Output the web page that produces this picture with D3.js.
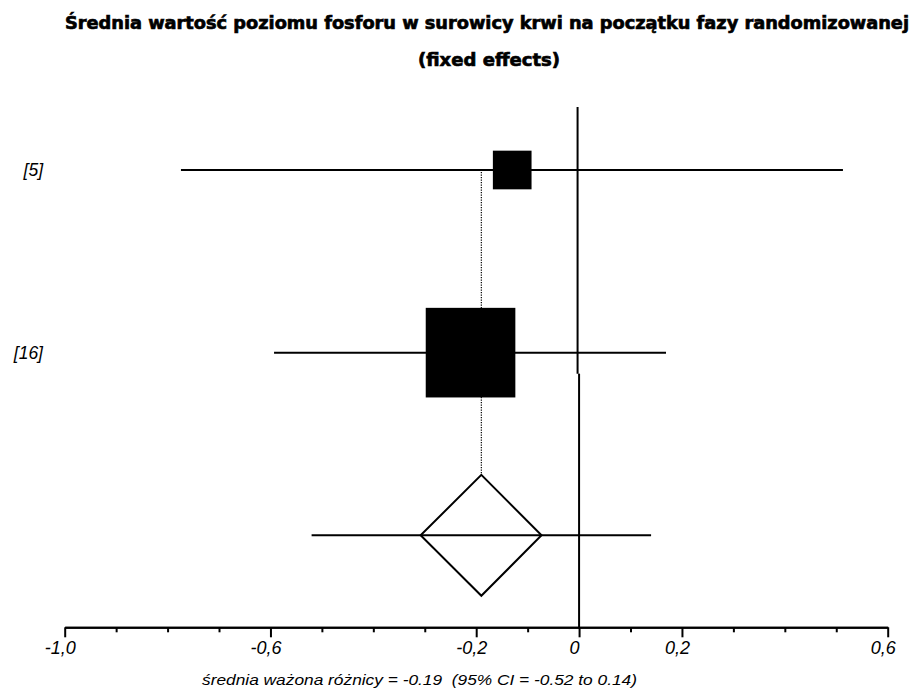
<!DOCTYPE html>
<html>
<head>
<meta charset="utf-8">
<script src="https://cdn.jsdelivr.net/npm/d3@7"></script>
<style>
  html, body { margin: 0; padding: 0; background: #fff; }
  svg { display: block; }
</style>
</head>
<body>
<svg id="chart" width="917" height="691"></svg>
<script>
// Study rows
const studies = ["[5]", "[16]"];
const estimates = [-0.130, -0.211];
const lowerCI = [-0.774, -0.593];
const upperCI = [0.513, 0.169];
const weights = [15.7, 84.3];            // % weight -> box area

// Pooled (fixed effects) estimate
const pooledEstimate = -0.19;
const pooledLower = -0.52;
const pooledUpper = 0.14;
const diamondLow = -0.308;
const diamondHigh = -0.073;

// Axis ticks
const minorTicks = [-0.9, -0.8, -0.7, -0.5, -0.4, -0.3, -0.1, 0.1, 0.3, 0.4, 0.5];
const majorTicks = [-1.0, -0.6, -0.2, 0, 0.2, 0.6];
const majorLabels = ["-1,0", "-0,6", "-0,2", "0", "0,2", "0,6"];

const titleLines = [
  "Średnia wartość poziomu fosforu w surowicy krwi na początku fazy randomizowanej",
  "(fixed effects)"
];
const footnote = "średnia ważona różnicy = -0.19  (95% CI = -0.52 to 0.14)";

const svg = d3.select("#chart");

const x = d3.scaleLinear().domain([-1.0, 0.6]).range([64.7, 887.7]);
const rows = [...studies, "pooled"];
const y = d3.scalePoint().domain(rows).range([170, 535.3]);
const box = d3.scaleSqrt().domain([0, 100]).range([0, 97.6]);
const axisY = 627.3;
const topY = 107;

// Title
const titleFont = "'DejaVu Sans Condensed', 'DejaVu Sans', sans-serif";
svg.append("text")
  .attr("x", 65).attr("y", 29)
  .attr("font-family", titleFont)
  .attr("font-weight", "bold").attr("font-size", 17)
  .attr("stroke", "#000").attr("stroke-width", 0.6)
  .attr("textLength", 844).attr("lengthAdjust", "spacingAndGlyphs")
  .text(titleLines[0]);
svg.append("text")
  .attr("x", 418).attr("y", 65.5)
  .attr("font-family", titleFont)
  .attr("font-weight", "bold").attr("font-size", 17)
  .attr("stroke", "#000").attr("stroke-width", 0.6)
  .attr("textLength", 142).attr("lengthAdjust", "spacingAndGlyphs")
  .text(titleLines[1]);

// Line of no effect (drawn in two pieces, upper piece nudged left)
const breakY = y("[16]") + 21;
svg.append("line")
  .attr("x1", x(0) - 1.5).attr("x2", x(0) - 1.5)
  .attr("y1", topY).attr("y2", breakY)
  .attr("stroke", "#000").attr("stroke-width", 2);
svg.append("line")
  .attr("x1", x(0)).attr("x2", x(0))
  .attr("y1", breakY).attr("y2", axisY)
  .attr("stroke", "#000").attr("stroke-width", 2);

// Dotted reference line at the pooled estimate
const diamondHalf = (x(diamondHigh) - x(diamondLow)) / 2;
svg.append("line")
  .attr("x1", x(pooledEstimate)).attr("x2", x(pooledEstimate))
  .attr("y1", y("[5]") + 2).attr("y2", y("pooled") - diamondHalf)
  .attr("stroke", "#000").attr("stroke-width", 1.2)
  .attr("stroke-dasharray", "1.2,1.3");

// Study confidence intervals and weighted boxes
const data = studies.map((s, i) => ({
  label: s, est: estimates[i], lo: lowerCI[i], hi: upperCI[i], w: weights[i]
}));

const g = svg.append("g");
g.selectAll("line.ci").data(data).join("line")
  .attr("class", "ci")
  .attr("x1", d => x(d.lo)).attr("x2", d => x(d.hi))
  .attr("y1", d => y(d.label)).attr("y2", d => y(d.label))
  .attr("stroke", "#000").attr("stroke-width", 2);

g.selectAll("rect.box").data(data).join("rect")
  .attr("class", "box")
  .attr("x", d => x(d.est) - box(d.w) / 2)
  .attr("y", d => y(d.label) - box(d.w) / 2)
  .attr("width", d => box(d.w))
  .attr("height", d => box(d.w))
  .attr("fill", "#000");

g.selectAll("text.lbl").data(data).join("text")
  .attr("class", "lbl")
  .attr("x", 43).attr("y", d => y(d.label))
  .attr("dy", "0.35em")
  .attr("text-anchor", "end")
  .attr("font-family", "'Liberation Sans', Arial, sans-serif")
  .attr("font-style", "italic").attr("font-size", 17.5)
  .text(d => d.label);

// Pooled estimate: diamond plus CI line
const py = y("pooled");
const diamond = d3.path();
diamond.moveTo(x(pooledEstimate), py - diamondHalf);
diamond.lineTo(x(diamondHigh), py);
diamond.lineTo(x(pooledEstimate), py + diamondHalf);
diamond.lineTo(x(diamondLow), py);
diamond.closePath();
svg.append("path")
  .attr("d", diamond.toString())
  .attr("fill", "none").attr("stroke", "#000").attr("stroke-width", 2)
  .attr("stroke-linejoin", "miter");
svg.append("line")
  .attr("x1", x(pooledLower)).attr("x2", x(pooledUpper))
  .attr("y1", py).attr("y2", py)
  .attr("stroke", "#000").attr("stroke-width", 2);

// X axis: minor and major ticks
const axisMinor = svg.append("g").attr("transform", `translate(0,${axisY})`)
  .call(d3.axisBottom(x).tickValues(minorTicks).tickSize(5).tickSizeOuter(0).tickFormat(""));
const axisMajor = svg.append("g").attr("transform", `translate(0,${axisY})`)
  .call(d3.axisBottom(x).tickValues(majorTicks).tickSize(10).tickSizeOuter(0)
    .tickFormat((d, i) => majorLabels[i]));
[axisMinor, axisMajor].forEach(a => {
  a.select(".domain").attr("stroke", "#000").attr("stroke-width", 2);
  a.selectAll(".tick line").attr("stroke", "#000").attr("stroke-width", 2);
});
axisMajor.selectAll(".tick text")
  .attr("y", 27).attr("dy", 0).attr("dx", -5)
  .attr("fill", "#000")
  .attr("font-family", "'Liberation Sans', Arial, sans-serif")
  .attr("font-style", "italic").attr("font-size", 18);

// Summary text below the axis
svg.append("text")
  .attr("x", 202).attr("y", 685)
  .attr("font-family", "'Liberation Sans', Arial, sans-serif")
  .attr("font-style", "italic").attr("font-size", 14)
  .attr("textLength", 435).attr("lengthAdjust", "spacingAndGlyphs")
  .style("white-space", "pre")
  .text(footnote);
</script>
</body>
</html>
